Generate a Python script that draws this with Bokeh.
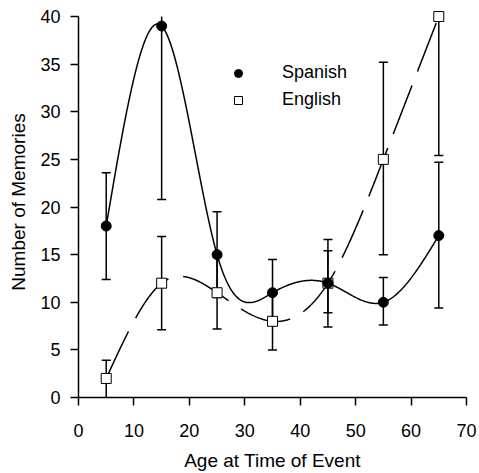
import numpy as np
from bokeh.plotting import figure
from bokeh.models import Range1d, FixedTicker, Legend, LegendItem
from bokeh.embed import file_html
from bokeh.resources import INLINE

ages = [5, 15, 25, 35, 45, 55, 65]
spanish = [18, 39, 15, 11, 12, 10, 17]
spanish_lo = [12.4, 20.8, 10.5, 7.7, 8.9, 7.6, 9.4]
spanish_hi = [23.6, 40.0, 19.5, 14.5, 15.4, 12.6, 24.7]
english = [2, 12, 11, 8, 12, 25, 40]
english_lo = [0.0, 7.1, 7.2, 5.0, 7.4, 15.0, 25.4]
english_hi = [3.9, 16.9, 14.8, 11.0, 16.6, 35.2, 40.0]
x_ticks = [0, 10, 20, 30, 40, 50, 60, 70]
y_ticks = [0, 5, 10, 15, 20, 25, 30, 35, 40]

FONT = "Liberation Sans"


def natural_spline(x, y, xs):
    x = np.asarray(x, float)
    y = np.asarray(y, float)
    n = len(x)
    h = np.diff(x)
    A = np.zeros((n, n))
    r = np.zeros(n)
    A[0, 0] = A[-1, -1] = 1
    for i in range(1, n - 1):
        A[i, i - 1] = h[i - 1]
        A[i, i] = 2 * (h[i - 1] + h[i])
        A[i, i + 1] = h[i]
        r[i] = 3 * ((y[i + 1] - y[i]) / h[i] - (y[i] - y[i - 1]) / h[i - 1])
    c = np.linalg.solve(A, r)
    b = (y[1:] - y[:-1]) / h - h * (2 * c[:-1] + c[1:]) / 3
    d = (c[1:] - c[:-1]) / (3 * h)
    idx = np.clip(np.searchsorted(x, xs) - 1, 0, n - 2)
    dx = xs - x[idx]
    return y[idx] + b[idx] * dx + c[idx] * dx ** 2 + d[idx] * dx ** 3


p = figure(width=479, height=473, output_backend="svg", toolbar_location=None,
           x_range=Range1d(0, 70), y_range=Range1d(0, 41.05),
           min_border_left=78, min_border_right=13, min_border_top=6,
           min_border_bottom=75)
p.outline_line_color = None
p.xgrid.visible = False
p.ygrid.visible = False
p.background_fill_color = "white"
p.border_fill_color = "white"

xs = np.linspace(ages[0], ages[-1], 600)
p.line(xs, natural_spline(ages, spanish, xs), line_color="black", line_width=1.5)
p.line(xs, natural_spline(ages, english, xs), line_color="black", line_width=1.5,
       line_dash="52 15")

# error bars
for vals_lo, vals_hi in ((spanish_lo, spanish_hi), (english_lo, english_hi)):
    p.segment(ages, vals_lo, ages, vals_hi, line_color="black", line_width=1.5)
    cap_lo = [v if v > 0 else np.nan for v in vals_lo]
    cap_hi = [v if v < 40 else np.nan for v in vals_hi]
    p.scatter(ages, cap_lo, marker="dash", size=9, line_color="black", line_width=1.5)
    p.scatter(ages, cap_hi, marker="dash", size=9, line_color="black", line_width=1.5)

en_r = p.scatter(ages, english, marker="square", size=10, fill_color="white",
                 line_color="black", line_width=1.0)
sp_r = p.scatter(ages, spanish, marker="circle", size=10, fill_color="black",
                 line_color="black")

legend = Legend(items=[LegendItem(label="Spanish", renderers=[sp_r]),
                       LegendItem(label="English", renderers=[en_r])],
                location=(150, 287))
legend.border_line_color = None
legend.background_fill_alpha = 0
legend.padding = 0
legend.margin = 0
legend.glyph_width = 20
legend.glyph_height = 20
legend.label_height = 20
legend.spacing = 6
legend.label_standoff = 34
legend.label_text_font = FONT
legend.label_text_font_size = "18px"
legend.label_text_color = "black"
p.add_layout(legend, "center")

for ax in (p.xaxis[0], p.yaxis[0]):
    ax.axis_line_color = "black"
    ax.axis_line_width = 1.5
    ax.major_tick_line_color = "black"
    ax.major_tick_line_width = 1.5
    ax.major_tick_in = 0
    ax.major_tick_out = 8
    ax.minor_tick_line_color = None
    ax.major_label_text_font = FONT
    ax.major_label_text_font_size = "18px"
    ax.major_label_text_color = "black"
    ax.axis_label_text_font = FONT
    ax.axis_label_text_font_size = "19px"
    ax.axis_label_text_font_style = "normal"
    ax.axis_label_text_color = "black"

p.xaxis.ticker = FixedTicker(ticks=x_ticks)
p.yaxis.ticker = FixedTicker(ticks=y_ticks)
p.yaxis.bounds = (0, 40)
p.xaxis.axis_label = "Age at Time of Event"
p.yaxis.axis_label = "Number of Memories"
p.yaxis.major_label_standoff = 10
p.xaxis.major_label_standoff = 18
p.xaxis.axis_label_standoff = 10
p.yaxis.axis_label_standoff = 8

open("out.html", "w").write(file_html(p, INLINE))
